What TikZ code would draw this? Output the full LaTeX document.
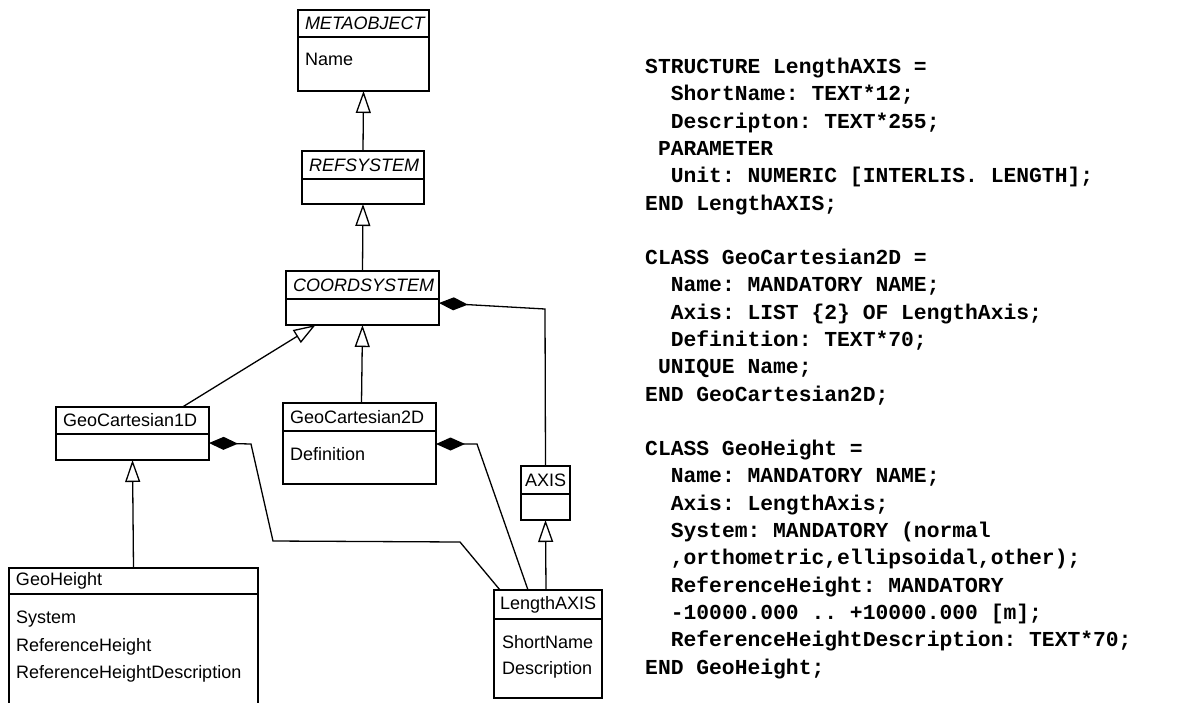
\documentclass[tikz,border=0pt]{standalone}
\usepackage{fontspec}
\newfontfamily\umlfont{Liberation Sans}
\newfontfamily\codefont{Liberation Mono}
\usetikzlibrary{arrows.meta}
\usetikzlibrary{positioning}

\tikzset{
  clshead/.style={draw, line width=1.6pt, outer sep=0pt, inner xsep=7pt, inner ysep=0pt,
    minimum height=28pt, align=left, anchor=north west,
    font=\umlfont\fontsize{18}{22}\selectfont},
  clsbody/.style={draw, line width=1.6pt, outer sep=0pt, inner sep=0pt},
  attrs/.style={anchor=north west, inner sep=0pt, align=left,
    font=\umlfont\fontsize{18}{26.5}\selectfont},
  gen/.style={line width=1.3pt, -{Triangle[open, length=22pt, width=15pt]}},
  comp/.style={line width=1.3pt, {Diamond[length=29pt, width=13pt]}-},
  code/.style={anchor=north west, inner sep=0pt, align=left,
    font=\codefont\bfseries\frenchspacing\fontsize{21.33}{27.3}\selectfont}
}

\begin{document}
\begin{tikzpicture}[x=1pt, y=-1pt]
    \useasboundingbox (0,0) rectangle (1204,702);

    % classes
    \node[clshead, text width=117pt, minimum height=27pt] (metahead) at (298,10) {\itshape METAOBJECT};
    \node[clsbody, below=0pt of metahead, minimum width=131pt, minimum height=54pt] (metabody) {};
    \node[attrs] (metaattr) at ([shift={(7pt,-16pt)}]metabody.north west) {Name};

    \node[clshead, text width=108pt] (refhead) at (302,151) {\itshape REFSYSTEM};
    \node[clsbody, below=0pt of refhead, minimum width=122pt, minimum height=25pt] (refbody) {};

    \node[clshead, text width=139pt] (coordhead) at (286,271) {\itshape COORDSYSTEM};
    \node[clsbody, below=0pt of coordhead, minimum width=153pt, minimum height=26pt] (coordbody) {};

    \node[clshead, text width=139pt, minimum height=27pt] (gc1dhead) at (56,407) {GeoCartesian1D};
    \node[clsbody, below=0pt of gc1dhead, minimum width=153pt, minimum height=26pt] (gc1dbody) {};

    \node[clshead, text width=139pt] (gc2dhead) at (283,403) {GeoCartesian2D};
    \node[clsbody, below=0pt of gc2dhead, minimum width=153pt, minimum height=53pt] (gc2dbody) {};
    \node[attrs] (gc2dattr) at ([shift={(7pt,-16pt)}]gc2dbody.north west) {Definition};

    \node[clshead, text width=41pt, inner xsep=4pt] (axishead) at (521,466) {AXIS};
    \node[clsbody, below=0pt of axishead, minimum width=49pt, minimum height=26pt] (axisbody) {};

    \node[clshead, text width=235pt, minimum height=26pt] (geohhead) at (9,568) {GeoHeight};
    \node[clsbody, below=0pt of geohhead, minimum width=249pt, minimum height=140pt] (geohbody) {};
    \node[attrs, font=\umlfont\fontsize{18}{27.5}\selectfont] (geohattr)
        at ([shift={(7pt,-17pt)}]geohbody.north west)
        {System\\ ReferenceHeight\\ ReferenceHeightDescription};

    \node[clshead, text width=96pt, inner xsep=6pt, minimum height=29pt] (lenhead) at (494,590) {LengthAXIS};
    \node[clsbody, below=0pt of lenhead, minimum width=108pt, minimum height=79pt] (lenbody) {};
    \node[attrs] (lenattr) at ([shift={(8pt,-16pt)}]lenbody.north west) {ShortName\\ Description};

    % generalisations
    \draw[gen] (refhead.north) -- (metabody.south);
    \draw[gen] (coordhead.north) -- (refbody.south);
    \draw[gen] ([xshift=2pt]gc2dhead.north) -- (coordbody.south);
    \draw[gen] ([xshift=50pt]gc1dhead.north) -- ([xshift=-47pt]coordbody.south);
    \draw[gen] (geohhead.north) -- (gc1dbody.south);
    \draw[gen] ([xshift=-2pt]lenhead.north) -- (axisbody.south);

    % compositions
    \coordinate (bendA) at (545,309);
    \coordinate (bendB) at (477,444);
    \coordinate (bendC) at (251,444);
    \coordinate (bendD) at (273,541);
    \coordinate (bendE) at (460,542);
    \draw[comp] ([yshift=-4pt]coordbody.north east) -- (bendA) -- (axishead.north);
    \draw[comp] ([yshift=-13pt]gc2dbody.north east) -- (bendB) -- ([xshift=-20pt]lenhead.north);
    \draw[comp] ([yshift=-9pt]gc1dbody.north east) -- (bendC) -- (bendD) -- (bendE)
        -- ([xshift=6pt]lenhead.north west);

    % INTERLIS text
    \node[code] (lenstruct) at (645,58) {STRUCTURE LengthAXIS =\\
\phantom{xx}ShortName: TEXT*12;\\
\phantom{xx}Descripton: TEXT*255;\\
\phantom{x}PARAMETER\\
\phantom{xx}Unit: NUMERIC [INTERLIS. LENGTH];\\
END LengthAXIS;};

    \node[code] (gc2dclass) at (645,249) {CLASS GeoCartesian2D =\\
\phantom{xx}Name: MANDATORY NAME;\\
\phantom{xx}Axis: LIST \{2\} OF LengthAxis;\\
\phantom{xx}Definition: TEXT*70;\\
\phantom{x}UNIQUE Name;\\
END GeoCartesian2D;};

    \node[code] (geohclass) at (645,440) {CLASS GeoHeight =\\
\phantom{xx}Name: MANDATORY NAME;\\
\phantom{xx}Axis: LengthAxis;\\
\phantom{xx}System: MANDATORY (normal\\
\phantom{xx},orthometric,ellipsoidal,other);\\
\phantom{xx}ReferenceHeight: MANDATORY\\
\phantom{xx}-10000.000 .. +10000.000 [m];\\
\phantom{xx}ReferenceHeightDescription: TEXT*70;\\
END GeoHeight;};
\end{tikzpicture}
\end{document}
